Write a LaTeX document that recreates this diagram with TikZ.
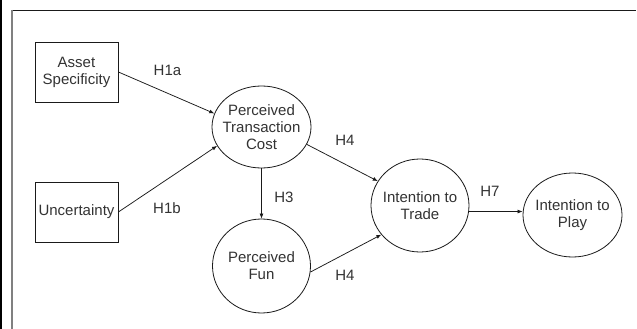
\documentclass[tikz,border=0pt]{standalone}
\usepackage{fontspec}
\setmainfont{Liberation Sans}
\usetikzlibrary{shapes.geometric,arrows.meta}
\definecolor{linec}{HTML}{1A1A1A}
\definecolor{txtc}{HTML}{333333}
\definecolor{framegray}{HTML}{808080}
\begin{document}
\begin{tikzpicture}[x=1pt,y=-1pt,
  txt/.style={font=\fontsize{15}{17}\selectfont, text=txtc, align=center},
  box/.style={draw=linec, line width=0.8pt, minimum width=83pt, minimum height=60pt, inner sep=0pt, txt},
  ell/.style={draw=linec, line width=0.8pt, ellipse, inner sep=0pt},
  arr/.style={draw=linec, line width=0.75pt, -{Latex[length=5pt,width=4pt]}},
  hyp/.style={txt, inner sep=0pt}]
\useasboundingbox (0,0) rectangle (637,329);
\fill[white] (0,0) rectangle (637,329);
% frame
\draw[black, line width=1.5pt] (0.75,0) -- (0.75,329);
\draw[linec, line width=1.2pt] (11,10.5) -- (636,10.5);
\draw[framegray, line width=1.5pt] (11.75,10) -- (11.75,329);
% boxes
\node[box] (as) at (76.5,72) {Asset\\Specificity};
\node[box] (unc) at (76.5,212) {Uncertainty};
% ellipses
\node[ell, minimum width=99pt, minimum height=82pt,
  label={[txt]center:{Perceived\\Transaction\\Cost}}] (ptc) at (261.5,127) {};
\node[ell, minimum width=98pt, minimum height=94pt,
  label={[txt]center:{Perceived\\Fun}}] (pf) at (261.5,266) {};
\node[ell, minimum width=98pt, minimum height=93pt,
  label={[txt]center:{Intention to\\Trade}}] (it) at (420,205.5) {};
\node[ell, minimum width=99pt, minimum height=84pt,
  label={[txt]center:{Intention to\\Play}}] (ip) at (572.5,215) {};
% connectors
\draw[arr] (as.east) -- (ptc.164);
\draw[arr] (unc.east) -- (ptc.203);
\draw[arr] (ptc) -- (pf);
\draw[arr] (ptc.-21) -- (it.150);
\draw[arr] (pf.-7) -- (it.217);
\draw[arr] (it.-7) -- (it.-7 -| ip.west);
% hypothesis labels
\node[hyp] (h1a) at (167.5,70.5) {H1a};
\node[hyp] (h1b) at (167,208) {H1b};
\node[hyp] (h3) at (284,197.5) {H3};
\node[hyp] (h4a) at (345,140) {H4};
\node[hyp] (h4b) at (345,275) {H4};
\node[hyp] (h7) at (490,191) {H7};
\end{tikzpicture}
\end{document}
